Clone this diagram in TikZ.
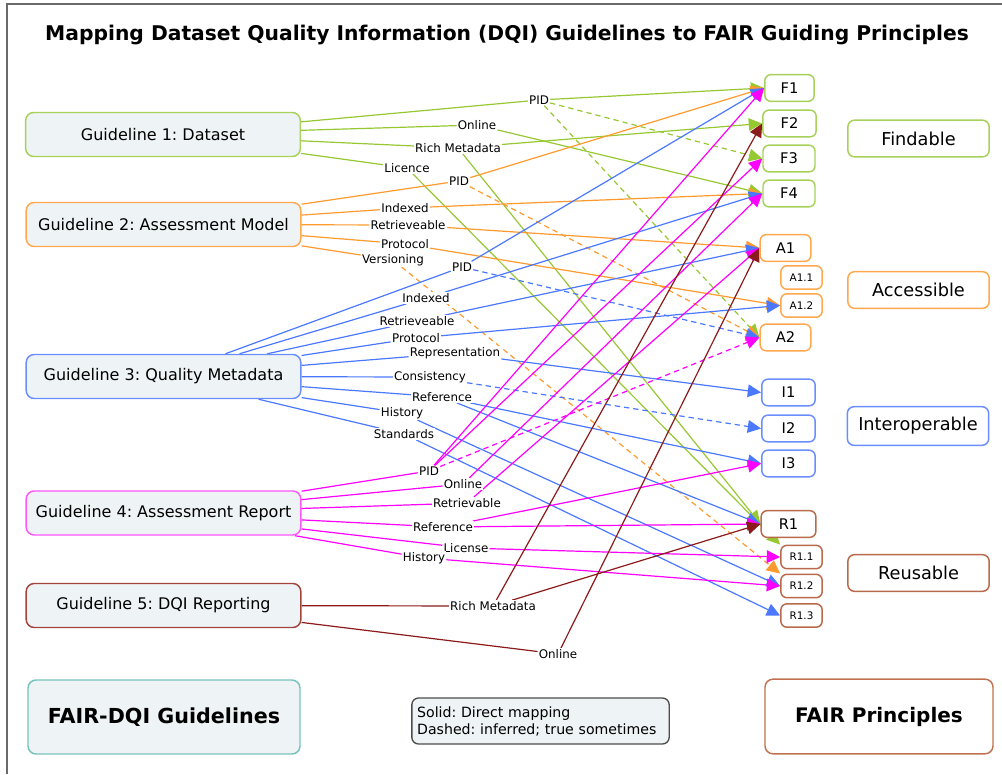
\documentclass[tikz,border=0pt]{standalone}
\usepackage{fontspec}
\setmainfont{DejaVu Sans}
\usetikzlibrary{arrows.meta}
\pgfdeclarelayer{bg}
\pgfsetlayers{bg,main}
\definecolor{cgreen}{HTML}{96C832}
\definecolor{cgreenb}{HTML}{A6D15A}
\definecolor{corange}{HTML}{FF9A2E}
\definecolor{corangeb}{HTML}{FFA84D}
\definecolor{cblue}{HTML}{4A78FF}
\definecolor{cblueb}{HTML}{6A8EFF}
\definecolor{cmag}{HTML}{FF00FF}
\definecolor{cmagb}{HTML}{FF55FF}
\definecolor{cdred}{HTML}{8B1A1A}
\definecolor{cg5}{HTML}{A3443C}
\definecolor{cbrown}{HTML}{B86A4B}
\definecolor{cfairp}{HTML}{C0714F}
\definecolor{cteal}{HTML}{78C2BC}
\definecolor{gfill}{HTML}{EEF3F5}
\definecolor{cframe}{HTML}{6A6A6A}
\frenchspacing
\begin{document}
\begin{tikzpicture}[x=0.75pt,y=-0.75pt,
  guide/.style={draw, rounded corners=6pt, fill=gfill, line width=1.1pt, minimum width=206pt, minimum height=33pt, font=\fontsize{12}{14}\selectfont, inner sep=0pt},
  pbox/.style={draw, fill=white, rounded corners=4.5pt, line width=1.1pt, minimum height=20pt, font=\fontsize{11}{13}\selectfont, inner sep=0pt},
  sbox/.style={pbox, minimum width=31pt, minimum height=17.5pt, font=\fontsize{7.8}{9}\selectfont},
  cat/.style={draw, fill=white, rounded corners=5pt, line width=1.1pt, minimum width=106pt, minimum height=27.5pt, font=\fontsize{13.3}{15}\selectfont, inner sep=0pt},
  lbl/.style={fill=white, inner sep=0.8pt, font=\fontsize{8.9}{10}\selectfont},
  conn/.style={line width=0.9pt},
  arr/.style={conn, -{Triangle[length=10pt,width=9.5pt]}},
  dsh/.style={dash pattern=on 4pt off 3pt},
]
\useasboundingbox (0,0) rectangle (1002,774);
\draw[cframe, line width=1.5pt] (7,774) -- (7,4) -- (1002,4);

% title
\node[font=\bfseries\fontsize{15.2}{18}\selectfont] (title) at (507,35) {Mapping Dataset Quality Information (DQI) Guidelines to FAIR Guiding Principles};

% guidelines
\node[guide, draw=cgreenb] (G1) at (163,134.5) {Guideline 1: Dataset};
\node[guide, draw=corangeb] (G2) at (163.5,224.5) {Guideline 2: Assessment Model};
\node[guide, draw=cblueb] (G3) at (163.5,376.5) {Guideline 3: Quality Metadata};
\node[guide, draw=cmagb] (G4) at (163.5,513) {Guideline 4: Assessment Report};
\node[guide, draw=cg5] (G5) at (163.5,605.5) {Guideline 5: DQI Reporting};

% principles
\node[pbox, draw=cgreenb, minimum width=37pt] (F1) at (789.5,88) {F1};
\node[pbox, draw=cgreenb, minimum width=40pt] (F2) at (789.5,123.5) {F2};
\node[pbox, draw=cgreenb, minimum width=39pt] (F3) at (789,158.5) {F3};
\node[pbox, draw=cgreenb, minimum width=39pt] (F4) at (789,193.5) {F4};
\node[pbox, draw=corangeb, minimum width=38pt] (A1) at (785.5,248) {A1};
\node[sbox, draw=corangeb] (A11) at (801.5,277.5) {A1.1};
\node[sbox, draw=corangeb] (A12) at (801.5,305.5) {A1.2};
\node[pbox, draw=corangeb, minimum width=38pt] (A2) at (785.5,337.5) {A2};
\node[pbox, draw=cblueb, minimum width=40pt] (I1) at (788.5,392.5) {I1};
\node[pbox, draw=cblueb, minimum width=40pt] (I2) at (788.5,428.5) {I2};
\node[pbox, draw=cblueb, minimum width=40pt] (I3) at (788.5,463.5) {I3};
\node[pbox, draw=cbrown, minimum width=41pt] (R1) at (788.5,524) {R1};
\node[sbox, draw=cbrown] (R11) at (801.5,557) {R1.1};
\node[sbox, draw=cbrown] (R12) at (801.5,586) {R1.2};
\node[sbox, draw=cbrown] (R13) at (801.5,615.5) {R1.3};

% categories
\node[cat, draw=cgreenb] (find) at (918.5,138.5) {Findable};
\node[cat, draw=corangeb] (acc) at (918.5,290) {Accessible};
\node[cat, draw=cblueb, minimum height=29pt] (inter) at (918,426) {Interoperable};
\node[cat, draw=cbrown] (reuse) at (918.5,573) {Reusable};

% bottom
\node[draw=cteal, fill=gfill, rounded corners=6pt, line width=1.1pt, minimum width=204pt, minimum height=55.5pt, font=\bfseries\fontsize{15.5}{18}\selectfont] (fdqi) at (164,717) {FAIR-DQI Guidelines};
\node[draw=black!70, fill=gfill, rounded corners=5pt, line width=1pt, minimum width=193pt, minimum height=34.5pt, align=left, text width=185pt, font=\fontsize{10.6}{12.75}\selectfont] (legend) at (540.5,721) {Solid: Direct mapping\\Dashed: inferred; true sometimes};
\node[draw=cfairp, fill=white, rounded corners=6pt, line width=1.1pt, minimum width=171pt, minimum height=56pt, font=\bfseries\fontsize{15}{18}\selectfont] (fairp) at (879,716.5) {FAIR Principles};

% labels G1
\node[lbl] (l1pid) at (539,100) {PID};
\node[lbl] (l1on) at (477,125) {Online};
\node[lbl] (l1rich) at (458,148) {Rich Metadata};
\node[lbl] (l1lic) at (407,168) {Licence};
% labels G2
\node[lbl] (l2pid) at (459,181) {PID};
\node[lbl] (l2idx) at (405,208) {Indexed};
\node[lbl] (l2ret) at (408,225) {Retrieveable};
\node[lbl] (l2pro) at (405,244) {Protocol};
\node[lbl] (l2ver) at (393,260) {Versioning};
% labels G3
\node[lbl] (l3pid) at (462,267) {PID};
\node[lbl] (l3idx) at (426,298) {Indexed};
\node[lbl] (l3ret) at (417,321) {Retrieveable};
\node[lbl] (l3pro) at (416,338) {Protocol};
\node[lbl] (l3rep) at (455,353) {Representation};
\node[lbl] (l3con) at (430,377) {Consistency};
\node[lbl] (l3ref) at (442,397) {Reference};
\node[lbl] (l3his) at (402,413) {History};
\node[lbl] (l3std) at (404,434) {Standards};
% labels G4
\node[lbl] (l4pid) at (429,471) {PID};
\node[lbl] (l4on) at (463,484) {Online};
\node[lbl] (l4ret) at (467,503) {Retrievable};
\node[lbl] (l4ref) at (443,527) {Reference};
\node[lbl] (l4lic) at (466,548) {License};
\node[lbl] (l4his) at (424,558) {History};
% labels G5
\node[lbl] (l5rich) at (493,606) {Rich Metadata};
\node[lbl] (l5on) at (558,654) {Online};

\begin{pgfonlayer}{bg}
% G1 green
\draw[conn, cgreen] (G1) -- (l1pid);
\draw[arr, cgreen] (l1pid) -- (F1.west);
\draw[arr, cgreen, dsh] (l1pid) -- (F3.west);
\draw[arr, cgreen, dsh] (l1pid) -- (A2.west);
\draw[conn, cgreen] (G1) -- (l1on);
\draw[arr, cgreen] (l1on) -- (F4.west);
\draw[conn, cgreen] (G1) -- (l1rich);
\draw[arr, cgreen] (l1rich) -- (F2.west);
\draw[arr, cgreen] (l1rich) -- (R1.west);
\draw[conn, cgreen] (G1) -- (l1lic);
\draw[arr, cgreen] (l1lic) -- (R11.north west);
% G2 orange
\draw[conn, corange] (G2) -- (l2pid);
\draw[arr, corange] (l2pid) -- (F1.west);
\draw[arr, corange, dsh] (l2pid) -- (A2.west);
\draw[conn, corange] (G2) -- (l2idx);
\draw[arr, corange] (l2idx) -- (F4.west);
\draw[conn, corange] (G2) -- (l2ret);
\draw[arr, corange] (l2ret) -- (A1.west);
\draw[conn, corange] (G2) -- (l2pro);
\draw[arr, corange] (l2pro) -- (A12.west);
\draw[conn, corange] (G2) -- (l2ver);
\draw[arr, corange, dsh] (l2ver) -- (R12.north west);
% G3 blue
\draw[conn, cblue] (G3) -- (l3pid);
\draw[arr, cblue] (l3pid) -- (F1.west);
\draw[arr, cblue, dsh] (l3pid) -- (A2.west);
\draw[conn, cblue] (G3) -- (l3idx);
\draw[arr, cblue] (l3idx) -- (F4.west);
\draw[conn, cblue] (G3) -- (l3ret);
\draw[arr, cblue] (l3ret) -- (A1.west);
\draw[conn, cblue] (G3) -- (l3pro);
\draw[arr, cblue] (l3pro) -- (A12.west);
\draw[conn, cblue] (G3) -- (l3rep);
\draw[arr, cblue] (l3rep) -- (I1.west);
\draw[conn, cblue] (G3) -- (l3con);
\draw[arr, cblue, dsh] (l3con) -- (I2.west);
\draw[conn, cblue] (G3) -- (l3ref);
\draw[arr, cblue] (l3ref) -- (I3.west);
\draw[arr, cblue] (l3ref) -- (R1.west);
\draw[conn, cblue] (G3) -- (l3his);
\draw[arr, cblue] (l3his) -- (R12.west);
\draw[conn, cblue] (G3) -- (l3std);
\draw[arr, cblue] (l3std) -- (R13.west);
% G4 magenta
\draw[conn, cmag] (G4) -- (l4pid);
\draw[arr, cmag] (l4pid) -- (F1.west);
\draw[arr, cmag] (l4pid) -- (F3.west);
\draw[arr, cmag, dsh] (l4pid) -- (A2.west);
\draw[conn, cmag] (G4) -- (l4on);
\draw[arr, cmag] (l4on) -- (F4.west);
\draw[conn, cmag] (G4) -- (l4ret);
\draw[arr, cmag] (l4ret) -- (A1.west);
\draw[conn, cmag] (G4) -- (l4ref);
\draw[arr, cmag] (l4ref) -- (I3.west);
\draw[arr, cmag] (l4ref) -- (R1.west);
\draw[conn, cmag] (G4) -- (l4lic);
\draw[arr, cmag] (l4lic) -- (R11.west);
\draw[conn, cmag] (G4) -- (l4his);
\draw[arr, cmag] (l4his) -- (R12.west);
% G5 dark red
\draw[conn, cdred] (G5) -- (l5rich);
\draw[arr, cdred] (l5rich) -- (F2.west);
\draw[arr, cdred] (l5rich) -- (R1.west);
\draw[conn, cdred] (G5) -- (l5on);
\draw[arr, cdred] (l5on) -- (A1.west);
\end{pgfonlayer}
\end{tikzpicture}
\end{document}
